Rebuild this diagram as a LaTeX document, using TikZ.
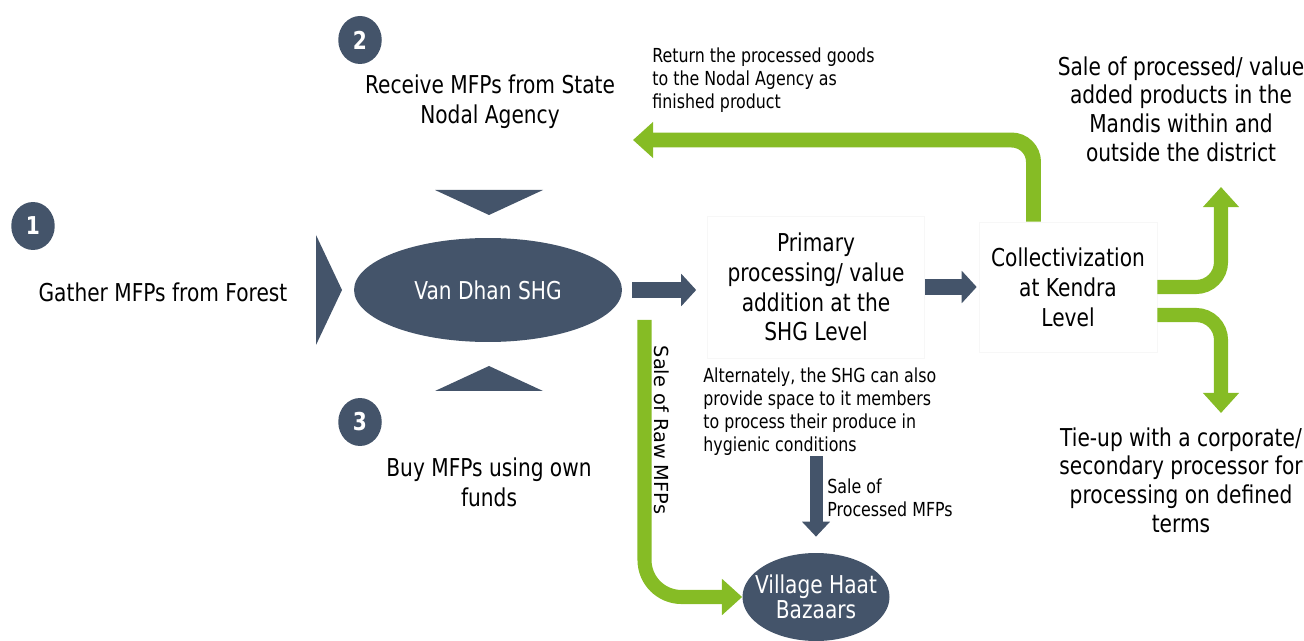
\documentclass[tikz,border=0pt]{standalone}
\usepackage{fontspec}
\setmainfont{DejaVu Sans}[FakeStretch=0.82]
\newfontfamily\plainfont{DejaVu Sans}
\usetikzlibrary{arrows.meta,shapes.geometric}
\definecolor{slate}{RGB}{68,84,106}
\definecolor{leaf}{RGB}{134,188,37}

\begin{document}
\begin{tikzpicture}[x=0.02cm,y=-0.02cm]
  \tikzset{
    big/.style={font=\fontsize{14}{17}\selectfont,align=center,inner sep=0pt},
    small/.style={font=\fontsize{11}{13.1}\selectfont,align=left,inner sep=0pt},
    badge/.style={ellipse,fill=slate,text=white,inner sep=0pt,
      minimum width=0.87cm,minimum height=0.96cm,font=\fontsize{14}{17}\selectfont\bfseries},
    hub/.style={ellipse,fill=slate,text=white,inner sep=0pt,align=center},
    stage/.style={big,draw=black!3,line width=0.4pt},
    wedge/.style={fill=slate},
    darrow/.style={draw=slate,line width=9pt,-{Triangle[width=18pt,length=8.5pt]}},
    garrow/.style={draw=leaf,line width=8pt,-{Triangle[width=20pt,length=11.5pt]}}
  }
  \useasboundingbox (0,0) rectangle (1304,641);

  % sources of the produce
  \node[badge] (one) at (33,226) {1};
  \node[badge] (two) at (360,40) {2};
  \node[badge] (three) at (360,422) {3};
  \node[big] (gather) at (163,292) {Gather MFPs from Forest};
  \node[big] (receive) at (490,102) {Receive MFPs from State\\Nodal Agency};
  \node[big] (buy) at (489,482) {Buy MFPs using own\\funds};

  % the SHG with its three inflows
  \node[hub,minimum width=5.36cm,minimum height=2.08cm,font=\fontsize{14}{17}\selectfont]
    (vandhan) at (488,290) {Van Dhan SHG};
  \fill[wedge] (316,235) -- (342,290) -- (316,345) -- cycle;
  \fill[wedge] (435,190) -- (543,190) -- (489,215) -- cycle;
  \fill[wedge] (435,391) -- (543,391) -- (489,366) -- cycle;

  % processing chain
  \node[stage,minimum width=4.34cm,minimum height=2.84cm] (primary) at (816,287)
    {Primary\\processing/ value\\addition at the\\SHG Level};
  \node[stage,minimum width=3.56cm,minimum height=2.6cm] (collect) at (1068,287)
    {Collectivization\\at Kendra\\Level};
  \draw[darrow,shorten <=0.2cm,shorten >=0.22cm] (vandhan.east) -- (vandhan.east -| primary.west);
  \draw[darrow,shorten >=0.04cm] (primary.east) -- (primary.east -| collect.west);

  % outlets from the Kendra
  \node[big,font=\fontsize{14}{16.3}\selectfont] (mandis) at (1181,109)
    {Sale of processed/ value\\added products in the\\Mandis within and\\outside the district};
  \node[big,font=\fontsize{14}{16.3}\selectfont] (tieup) at (1181,480)
    {Tie-up with a corporate/\\secondary processor for\\processing on defined\\terms};
  \coordinate (mtip) at (1221,187);
  \coordinate (ttip) at (1221,413);
  \coordinate (rettip) at (633,140);
  \draw[garrow,rounded corners=0.5cm] (collect.east) -| (mtip);
  \draw[garrow,rounded corners=0.5cm] ([yshift=-0.56cm]collect.east) -| (ttip);
  \draw[garrow,line width=8.5pt,rounded corners=0.44cm] ([xshift=-0.69cm]collect.north) |- (rettip);
  \node[small,anchor=west] (retnote) at (652,80)
    {Return the processed goods\\to the Nodal Agency as\\finished product};

  % local sale at the haat
  \node[hub,inner xsep=-0.18cm,minimum width=2.9cm,minimum height=1.76cm,
    font=\fontsize{14}{14.5}\selectfont] (haat) at (816,597) {Village Haat\\Bazaars};
  \node[small,anchor=west] (alt) at (703,412)
    {Alternately, the SHG can also\\provide space to it members\\to process their produce in\\hygienic conditions};
  \node[small,anchor=west] (procnote) at (827,498) {Sale of\\Processed MFPs};
  \draw[draw=slate,line width=7.4pt,-{Triangle[width=15.4pt,length=8.5pt]},shorten >=0.32cm]
    (alt.south -| haat.north) -- (haat.north);
  \coordinate (rawtop) at (644.5,320);
  \draw[garrow,rounded corners=0.74cm] (rawtop) |- (haat);
  \node[inner sep=0pt,rotate=-90,font=\plainfont\fontsize{11}{13}\selectfont] (rawnote) at (662,430)
    {Sale of Raw MFPs};
\end{tikzpicture}
\end{document}
